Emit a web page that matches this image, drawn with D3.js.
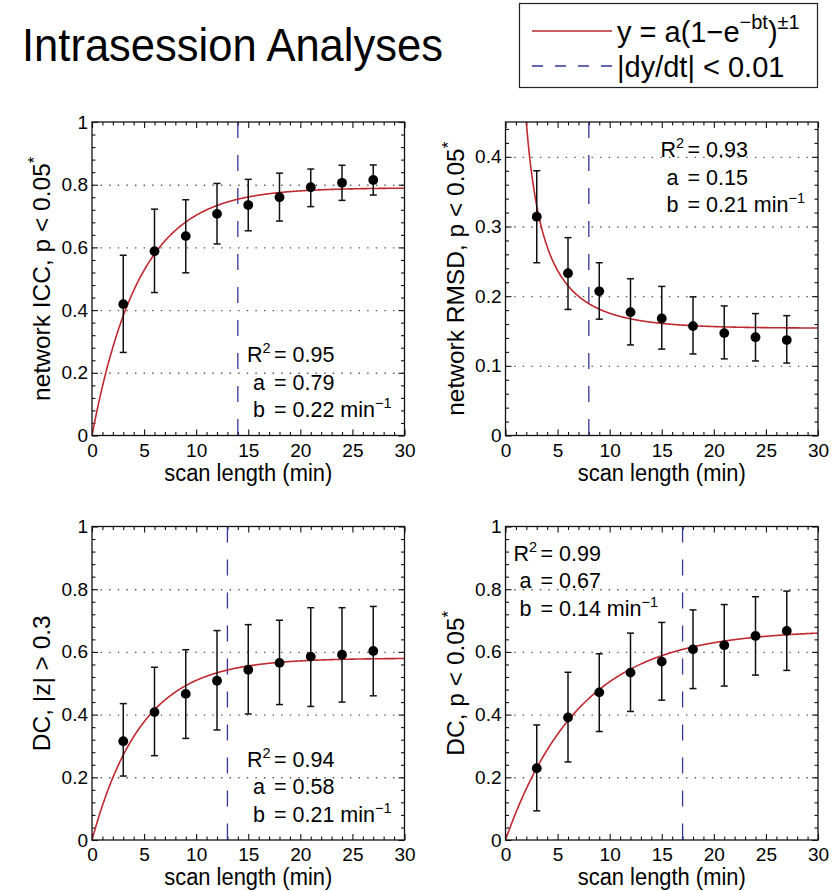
<!DOCTYPE html>
<html><head><meta charset="utf-8">
<script src="https://cdn.jsdelivr.net/npm/d3@7"></script>
<style>
body{margin:0;background:#fff}
svg text{font-family:"Liberation Sans", Arial, Helvetica, sans-serif; fill:#000}
</style></head><body>
<svg id="chart" width="833" height="891"></svg>
<script>
// ---------- data ----------
const scanLength = [3, 6, 9, 12, 15, 18, 21, 24, 27];

const iccMean = [0.419, 0.588, 0.636, 0.707, 0.735, 0.760, 0.792, 0.806, 0.815];
const iccLow  = [0.265, 0.456, 0.519, 0.611, 0.653, 0.684, 0.730, 0.750, 0.767];
const iccHigh = [0.575, 0.722, 0.752, 0.804, 0.817, 0.837, 0.850, 0.862, 0.863];

const rmsdMean = [0.314, 0.233, 0.207, 0.177, 0.168, 0.157, 0.147, 0.141, 0.137];
const rmsdLow  = [0.248, 0.181, 0.167, 0.130, 0.124, 0.117, 0.110, 0.107, 0.104];
const rmsdHigh = [0.380, 0.284, 0.248, 0.225, 0.214, 0.199, 0.186, 0.175, 0.172];

const dcZMean = [0.315, 0.408, 0.466, 0.508, 0.543, 0.565, 0.585, 0.591, 0.603];
const dcZLow  = [0.204, 0.269, 0.324, 0.351, 0.402, 0.432, 0.426, 0.440, 0.460];
const dcZHigh = [0.435, 0.551, 0.607, 0.668, 0.687, 0.701, 0.741, 0.741, 0.745];

const dcPMean = [0.229, 0.391, 0.471, 0.534, 0.569, 0.608, 0.621, 0.651, 0.667];
const dcPLow  = [0.093, 0.249, 0.346, 0.410, 0.446, 0.483, 0.491, 0.526, 0.541];
const dcPHigh = [0.367, 0.535, 0.594, 0.660, 0.694, 0.734, 0.751, 0.776, 0.794];

// fit y = a(1 - e^{-bt})^{±1}
const fitA     = [0.79, 0.154, 0.58, 0.67];
const fitB     = [0.22, 0.21, 0.21, 0.14];
const fitPower = [1, -1, 1, 1];
const cutoffT  = [14, 8, 13, 17];   // |dy/dt| < 0.01
const r2Labels = ["0.95", "0.93", "0.94", "0.99"];
const aLabels  = ["0.79", "0.15", "0.58", "0.67"];
const bLabels  = ["0.22", "0.21", "0.21", "0.14"];

const yTitles = ["network ICC, p < 0.05", "network RMSD, p < 0.05", "DC, |z| > 0.3", "DC, p < 0.05"];
const yTitleStar = [true, true, false, true];
const yMax = [1, 0.45, 1, 1];
const xTickValues = [0, 5, 10, 15, 20, 25, 30];
const yTickUnit = [0, 0.2, 0.4, 0.6, 0.8, 1];
const yTickRmsd = [0, 0.1, 0.2, 0.3, 0.4];
const xTitle = "scan length (min)";
const titleText = "Intrasession Analyses";
const legendFit = "y = a(1\u2212e";
const legendCut = "|dy/dt| < 0.01";

// ---------- layout ----------
const RED = "#c0282f", BLUE = "#34349e";
const PW = 312.5, PH = 313.5;
const origins = [[92, 122], [505.5, 122], [92, 526.5], [505.5, 526.5]];
const annPos = [[155, 240], [155, 35], [155, 240], [8, 34]];

const svg = d3.select("#chart");

const seriesMean = [iccMean, rmsdMean, dcZMean, dcPMean];
const seriesLow = [iccLow, rmsdLow, dcZLow, dcPLow];
const seriesHigh = [iccHigh, rmsdHigh, dcZHigh, dcPHigh];

function fmt(v){ return String(+v.toFixed(2)); }

for (let p = 0; p < 4; p++) {
  const [ox, oy] = origins[p];
  const g = svg.append("g").attr("transform", `translate(${ox},${oy})`);
  const x = d3.scaleLinear().domain([0, 30]).range([0, PW]);
  const y = d3.scaleLinear().domain([0, yMax[p]]).range([PH, 0]);
  const yMajor = p === 1 ? yTickRmsd : yTickUnit;
  const yStep = p === 1 ? 0.02 : 0.04;
  const yMinor = d3.range(0, yMax[p] + 1e-9, yStep).map(v => +v.toFixed(3)).filter(v => !yMajor.some(m => Math.abs(m - v) < 1e-6));
  const xMinor = d3.range(0, 31, 1).filter(v => v % 5 !== 0);

  const clipId = "clip" + p;
  g.append("clipPath").attr("id", clipId).append("rect").attr("width", PW).attr("height", PH);

  // grid (dotted)
  g.append("g").attr("class", "grid")
    .call(d3.axisLeft(y).tickValues(yMajor.filter(v => v > 0 && v < yMax[p])).tickSize(-PW).tickFormat(""))
    .call(s => s.select(".domain").remove())
    .call(s => s.selectAll("line").attr("stroke", "#555").attr("stroke-width", 1.4).attr("stroke-dasharray", "1.4,7.2"));

  // axes with inward ticks
  const tickStyle = s => { s.select(".domain").remove(); s.selectAll("line").attr("stroke", "#111").attr("stroke-width", 1.1); };
  g.append("g").attr("transform", `translate(0,${PH})`)
    .call(d3.axisBottom(x).tickValues(xTickValues).tickSizeInner(-6).tickSizeOuter(0).tickPadding(8).tickFormat(d3.format("d")))
    .call(tickStyle)
    .call(s => s.selectAll("text").attr("font-size", 19).attr("font-family", "Liberation Sans, Arial, sans-serif"));
  g.append("g").attr("transform", `translate(0,${PH})`)
    .call(d3.axisBottom(x).tickValues(xMinor).tickSizeInner(-3.5).tickSizeOuter(0).tickFormat(""))
    .call(tickStyle);
  g.append("g")
    .call(d3.axisTop(x).tickValues(xTickValues).tickSizeInner(-6).tickSizeOuter(0).tickFormat(""))
    .call(tickStyle);
  g.append("g")
    .call(d3.axisTop(x).tickValues(xMinor).tickSizeInner(-3.5).tickSizeOuter(0).tickFormat(""))
    .call(tickStyle);
  g.append("g")
    .call(d3.axisLeft(y).tickValues(yMajor).tickSizeInner(-6).tickSizeOuter(0).tickPadding(4).tickFormat(fmt))
    .call(tickStyle)
    .call(s => s.selectAll("text").attr("font-size", 19).attr("font-family", "Liberation Sans, Arial, sans-serif"));
  g.append("g")
    .call(d3.axisLeft(y).tickValues(yMinor).tickSizeInner(-3.5).tickSizeOuter(0).tickFormat(""))
    .call(tickStyle);
  g.append("g").attr("transform", `translate(${PW},0)`)
    .call(d3.axisRight(y).tickValues(yMajor).tickSizeInner(-6).tickSizeOuter(0).tickFormat(""))
    .call(tickStyle);
  g.append("g").attr("transform", `translate(${PW},0)`)
    .call(d3.axisRight(y).tickValues(yMinor).tickSizeInner(-3.5).tickSizeOuter(0).tickFormat(""))
    .call(tickStyle);

  // cutoff dashed line
  g.append("line").attr("x1", x(cutoffT[p])).attr("x2", x(cutoffT[p]))
    .attr("y1", 0).attr("y2", PH)
    .attr("stroke", BLUE).attr("stroke-width", 1.3).attr("stroke-dasharray", "16,17");

  // fit curve
  const ts = d3.range(0.02, 30.001, 0.05);
  const fit = t => fitA[p] * Math.pow(1 - Math.exp(-fitB[p] * t), fitPower[p]);
  const line = d3.line().x(t => x(t)).y(t => y(Math.min(fit(t), yMax[p] * 1.5)));
  g.append("path").datum(fitPower[p] > 0 ? [0].concat(ts) : ts.filter(t => t > 1))
    .attr("clip-path", `url(#${clipId})`)
    .attr("d", line).attr("fill", "none").attr("stroke", RED).attr("stroke-width", 1.6);

  // error bars
  const pts = scanLength.map((t, i) => ({t, m: seriesMean[p][i], lo: seriesLow[p][i], hi: seriesHigh[p][i]}));
  const eb = g.append("g").attr("stroke", "#111").attr("stroke-width", 1.5);
  eb.selectAll(".v").data(pts).join("line")
    .attr("x1", d => x(d.t)).attr("x2", d => x(d.t)).attr("y1", d => y(d.lo)).attr("y2", d => y(d.hi));
  eb.selectAll(".ct").data(pts).join("line")
    .attr("x1", d => x(d.t) - 3.5).attr("x2", d => x(d.t) + 3.5).attr("y1", d => y(d.hi)).attr("y2", d => y(d.hi));
  eb.selectAll(".cb").data(pts).join("line")
    .attr("x1", d => x(d.t) - 3.5).attr("x2", d => x(d.t) + 3.5).attr("y1", d => y(d.lo)).attr("y2", d => y(d.lo));
  g.append("g").selectAll("circle").data(pts).join("circle")
    .attr("cx", d => x(d.t)).attr("cy", d => y(d.m)).attr("r", 4.9).attr("fill", "#000");

  // frame
  g.append("rect").attr("width", PW).attr("height", PH).attr("fill", "none").attr("stroke", "#111").attr("stroke-width", 1.3);

  // axis titles
  g.append("text").attr("x", PW / 2).attr("y", PH + 45).attr("text-anchor", "middle")
    .attr("font-size", 23).attr("textLength", 168).attr("lengthAdjust", "spacingAndGlyphs").text(xTitle);
  const yt = g.append("text").attr("transform", `translate(-42,${PH / 2}) rotate(-90)`)
    .attr("text-anchor", "middle").attr("font-size", 24.5);
  yt.append("tspan").text(yTitles[p]);
  if (yTitleStar[p]) yt.append("tspan").attr("dy", -10).attr("font-size", 17).text("*");

  // annotation
  const [ax, ay] = annPos[p];
  const fs = 21.5, lh = 27.5;
  const r = g.append("text").attr("x", ax).attr("y", ay).attr("font-size", fs);
  r.append("tspan").text("R");
  r.append("tspan").attr("dy", -9).attr("font-size", 14.5).text("2");
  g.append("text").attr("x", ax + 27).attr("y", ay).attr("font-size", fs).text("= " + r2Labels[p]);
  g.append("text").attr("x", ax + 6).attr("y", ay + lh).attr("font-size", fs).text("a");
  g.append("text").attr("x", ax + 27).attr("y", ay + lh).attr("font-size", fs).text("= " + aLabels[p]);
  g.append("text").attr("x", ax + 6).attr("y", ay + 2 * lh).attr("font-size", fs).text("b");
  const bt = g.append("text").attr("x", ax + 27).attr("y", ay + 2 * lh).attr("font-size", fs);
  bt.append("tspan").text("= " + bLabels[p] + " min");
  bt.append("tspan").attr("dy", -9).attr("font-size", 14.5).text("\u22121");
}

// title
svg.append("text").attr("x", 22).attr("y", 61).attr("font-size", 47)
  .attr("textLength", 421).attr("lengthAdjust", "spacingAndGlyphs").text(titleText);

// legend
const lg = svg.append("g");
lg.append("rect").attr("x", 519.5).attr("y", 3.5).attr("width", 298).attr("height", 84)
  .attr("fill", "#fff").attr("stroke", "#222").attr("stroke-width", 1.2);
lg.append("line").attr("x1", 532).attr("x2", 612).attr("y1", 31).attr("y2", 31)
  .attr("stroke", RED).attr("stroke-width", 1.6);
lg.append("line").attr("x1", 532).attr("x2", 612).attr("y1", 66).attr("y2", 66)
  .attr("stroke", BLUE).attr("stroke-width", 1.3).attr("stroke-dasharray", "11,12");
const l1 = lg.append("text").attr("x", 617).attr("y", 42).attr("font-size", 29);
l1.append("tspan").text(legendFit);
l1.append("tspan").attr("dy", -13).attr("font-size", 20).text("\u2212bt");
l1.append("tspan").attr("dy", 13).text(")");
l1.append("tspan").attr("dy", -13).attr("font-size", 20).text("\u00b11");
lg.append("text").attr("x", 617).attr("y", 77).attr("font-size", 29).text(legendCut);
</script>
</body></html>
